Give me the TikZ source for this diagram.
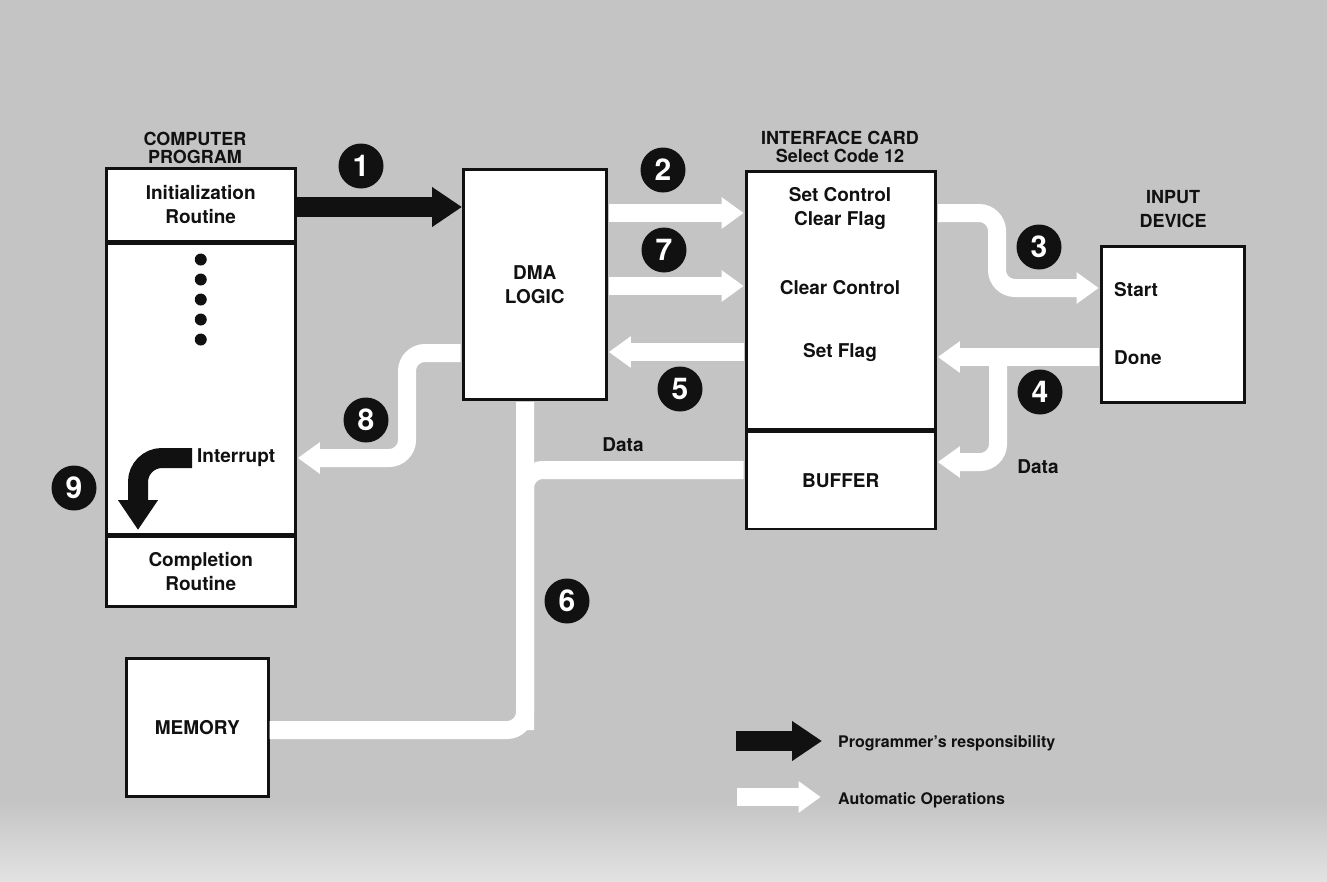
\documentclass[tikz,border=0pt]{standalone}
\usepackage{fontspec}
\setmainfont{TeX Gyre Heros}
\usetikzlibrary{arrows.meta,positioning}
\definecolor{hpBack}{HTML}{C4C4C4}
\definecolor{hpLight}{HTML}{E2E2E2}
\definecolor{hpInk}{HTML}{111111}
\tikzset{
  hp box/.style={draw=hpInk, fill=white, line width=2.5pt, inner sep=0pt},
  hp text/.style={font=\fontsize{19}{24}\selectfont\bfseries, text=hpInk, align=center, inner sep=0pt},
  hp title/.style={font=\fontsize{18}{18}\selectfont\bfseries, text=hpInk, align=center, inner sep=0pt},
  hp num/.style={circle, fill=hpInk, minimum size=45pt, inner sep=0pt, text=white, font=\fontsize{30}{30}\selectfont\bfseries},
  hp prog/.style={draw=hpInk, line width=20pt, -{Triangle[length=30pt,width=38pt]}},
  hp auto/.style={draw=white, line width=18pt, shorten <=1.3pt, shorten >=1.3pt, -{Triangle[length=22pt,width=30pt]}},
  hp band/.style={draw=white, line width=18pt, shorten <=1.3pt},
  hp legend/.style={font=\fontsize{16}{16}\selectfont\bfseries, text=hpInk, anchor=west, inner sep=0pt},
}
\begin{document}
\begin{tikzpicture}[x=1pt, y=-1pt]
  % Background
  \fill[hpBack] (0,0) rectangle (1327,881);
  \shade[top color=hpBack, bottom color=hpLight] (0,800) rectangle (1327,881);
  \useasboundingbox (0,0) rectangle (1327,881);

  % Computer program
  \node[hp title] (progt) at (195,148) {COMPUTER\\PROGRAM};
  \node[hp box, hp text, minimum width=189, minimum height=73, anchor=north west] (progtop) at (105,167) {Initialization\\Routine};
  \node[hp box, minimum width=189, minimum height=290, anchor=north] (progmid) at (progtop.south) {};
  \node[hp box, hp text, minimum width=189, minimum height=70, anchor=north] (progbot) at (progmid.south) {Completion\\Routine};
  \foreach \k in {0,...,4} {
    \fill[hpInk] ([yshift={-17-20*\k}]progmid.north) circle (6pt);
  }
  \node[hp text, anchor=west] (intr) at (197,458) {Interrupt};

  % DMA, interface card, input device, memory
  \node[hp box, hp text, minimum width=143, minimum height=230, anchor=north west] (dma) at (462,168) {DMA\\LOGIC};
  \node[hp title] (cardt) at (840,147) {INTERFACE CARD\\Select Code 12};
  \node[hp box, minimum width=189, minimum height=258, anchor=north west] (card) at (745,170) {};
  \node[hp box, hp text, minimum width=189, minimum height=97, anchor=north] (buffer) at (card.south) {BUFFER};
  \node[hp text] (setctl) at (840,209) {Set Control\\Clear Flag};
  \node[hp text] (clrctl) at (840,288) {Clear Control};
  \node[hp text] (setflg) at (840,353) {Set Flag};
  \node[hp title] (inputt) at (1173,209) {INPUT\\[6pt]DEVICE};
  \node[hp box, minimum width=143, minimum height=156, anchor=north west] (input) at (1100,245) {};
  \node[hp text, anchor=west] (start) at (1114,290) {Start};
  \node[hp text, anchor=west] (done) at (1114,358) {Done};
  \node[hp box, hp text, minimum width=142, minimum height=138, anchor=north west] (memory) at (125,657) {MEMORY};

  % Programmer's responsibility
  \coordinate (a1) at (0,207);
  \draw[hp prog] (progtop.east |- a1) -- (dma.west |- a1);
  \coordinate (tip9) at (138,530);
  \draw[hp prog, rounded corners=24] ([xshift=-5pt]intr.west) -| (tip9);

  % Automatic operations
  \coordinate (a2) at (0,213);
  \coordinate (a7) at (0,286);
  \coordinate (a5) at (0,352);
  \draw[hp auto] (dma.east |- a2) -- (card.west |- a2);
  \draw[hp auto] (dma.east |- a7) -- (card.west |- a7);
  \draw[hp auto] (card.west |- a5) -- (dma.east |- a5);
  \coordinate (a8) at (407,353);
  \coordinate (b8) at (407,458);
  \draw[hp auto, rounded corners=18] (dma.west |- a8) -- (a8) -- (b8) -- (progmid.east |- b8);
  \coordinate (a3) at (997,213);
  \coordinate (b3) at (997,288);
  \draw[hp auto, rounded corners=18] (card.east |- a3) -- (a3) -- (b3) -- (input.west |- b3);
  \coordinate (a4) at (998,357);
  \coordinate (b4) at (998,462);
  \draw[hp auto] (input.west |- a4) -- (card.east |- a4);
  \draw[hp auto, rounded corners=18] (a4) -- (b4) -- (buffer.east |- b4);
  \coordinate (a6) at (525,470);
  \coordinate (b6) at (525,730);
  \draw[hp band, rounded corners=18] (dma.south -| a6) -- (b6) -- (memory.east |- b6);
  \draw[hp band, rounded corners=18] (buffer.west |- a6) -- (a6) -- (b6);
  \node[hp text] (data1) at (623,445) {Data};
  \node[hp text] (data2) at (1038,467) {Data};

  % Step numbers
  \node[hp num] (n1) at (361,166) {1};
  \node[hp num] (n2) at (663,170) {2};
  \node[hp num] (n3) at (1039,247) {3};
  \node[hp num] (n4) at (1040,392) {4};
  \node[hp num] (n5) at (680,389) {5};
  \node[hp num] (n6) at (567,601) {6};
  \node[hp num] (n7) at (664,250) {7};
  \node[hp num] (n8) at (366,420) {8};
  \node[hp num] (n9) at (74,488) {9};

  % Legend
  \node[hp legend] (leg1) at (838,743) {Programmer's responsibility};
  \node[hp legend] (leg2) at (838,800) {Automatic Operations};
  \coordinate (l1) at (736,741);
  \coordinate (l2) at (736,797);
  \draw[hp prog] (l1) -- ([xshift=-16pt]leg1.west |- l1);
  \draw[hp auto] (l2) -- ([xshift=-16pt]leg2.west |- l2);
\end{tikzpicture}
\end{document}
